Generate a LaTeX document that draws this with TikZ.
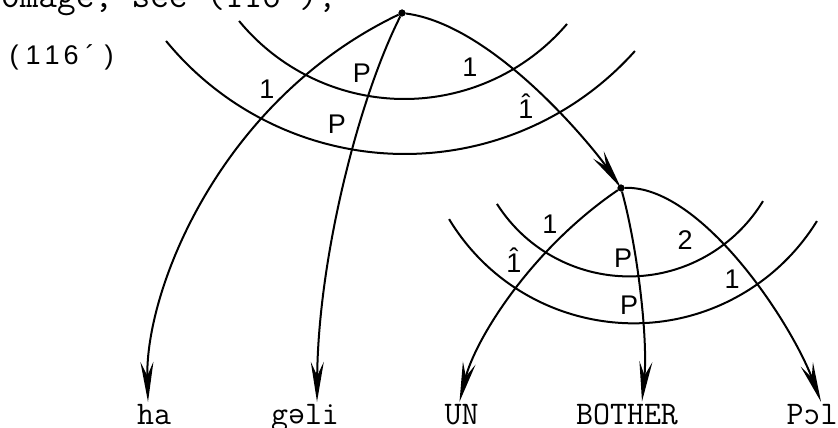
\documentclass[tikz,border=0pt]{standalone}
\usepackage{fontspec}
\usepackage{graphicx}
\usetikzlibrary{arrows.meta}
\newfontfamily\labfont{Liberation Sans}
\newcommand\eqcell[1]{\makebox[19pt][c]{#1}}
\newcommand\hatone{\ooalign{\hfil 1\hfil\cr\hfil\raisebox{5pt}{ˆ}\hfil\cr}}
\begin{document}
\begin{tikzpicture}[x=1pt,y=-1pt,
  conn/.style={line width=2pt, -{Stealth[length=40pt,width=13pt,inset=14pt]}},
  arcline/.style={line width=2pt},
  rootdot/.style={circle,fill,inner sep=0pt,minimum size=7pt},
  wordbox/.style={font=\fontsize{33}{33}\selectfont\ttfamily, inner sep=0pt, outer sep=2pt, anchor=base},
  labstyle/.style={font=\fontsize{27}{27}\selectfont\labfont, inner sep=0pt, anchor=base},
]
\fill[white] (0,0) rectangle (838,428);
\clip (0,0) rectangle (838,428);
\useasboundingbox (0,0) rectangle (838,428);

% header text (cut at top)
\node[anchor=base west, inner sep=0pt, font=\fontsize{36.2}{36}\selectfont\ttfamily] (hdr) at (1,8) {omage, see (116´);};
\node[anchor=base west, inner sep=0pt, font=\fontsize{27}{27}\selectfont\labfont] (eqno) at (4.5,65)
  {\eqcell{(}\eqcell{1}\eqcell{1}\eqcell{6}\eqcell{´}\eqcell{)}};

% root nodes
\node[rootdot] (T) at (402,13) {};
\node[rootdot] (N) at (621,188) {};

% leaf words
\node[wordbox] (ha) at (154,424) {ha};
\node[wordbox] (gali) at (305,424) {g\rotatebox[origin=c]{180}{e}li};
\node[wordbox] (UN) at (461.5,424) {UN};
\node[wordbox] (BOTHER) at (627,424) {BOTHER};
\node[wordbox] (Pol) at (812,424) {P\reflectbox{c}l};

% arcs, upper tree
\draw[arcline] (404.3,-115) ++(140.55:214) arc[start angle=140.55, end angle=40.5, radius=214];
\draw[arcline] (404.8,-154.7) ++(140.67:308.7) arc[start angle=140.67, end angle=41.8, radius=308.7];
% arcs, lower tree
\draw[arcline] (629.1,119.7) ++(147.5:156.7) arc[start angle=147.5, end angle=31.3, radius=156.7];
\draw[arcline] (633.6,107.8) ++(148.9:215.5) arc[start angle=148.9, end angle=31.7, radius=215.5];

% connectors
\draw[conn] (T) .. controls (220,100) and (145,290) .. ([xshift=-6pt]ha.north);
\draw[conn] (T) .. controls (358,100) and (318,260) .. ([xshift=12pt]gali.north);
\draw[conn] (T) .. controls (495,25) and (595,150) .. (N.center);
\draw[conn] (N) .. controls (530,250) and (475,340) .. ([xshift=-2pt]UN.north);
\draw[conn] (N) .. controls (638,250) and (648,340) .. ([xshift=15pt]BOTHER.north);
\draw[conn] (N) .. controls (700,185) and (790,320) .. ([xshift=9pt]Pol.north);

\node[rootdot] at (T) {};
\node[rootdot] at (N) {};

% labels, upper tree
\node[labstyle] (u1) at (267,98) {1};
\node[labstyle] (u2) at (362,82) {P};
\node[labstyle] (u3) at (337,133) {P};
\node[labstyle] (u4) at (470,77) {1};
\node[labstyle] (u5) at (526,118) {\hatone};
% labels, lower tree
\node[labstyle] (d1) at (550,233) {1};
\node[labstyle] (d2) at (514,272) {\hatone};
\node[labstyle] (d3) at (623,267) {P};
\node[labstyle] (d4) at (685,249) {2};
\node[labstyle] (d5) at (629,314) {P};
\node[labstyle] (d6) at (732,288) {1};
\end{tikzpicture}
\end{document}
